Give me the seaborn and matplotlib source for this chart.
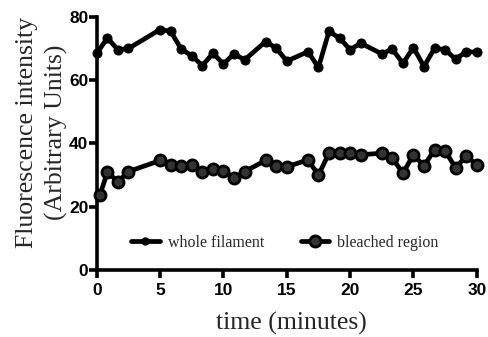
import matplotlib
matplotlib.use("Agg")
import matplotlib.pyplot as plt
import seaborn as sns
import pandas as pd
from matplotlib.lines import Line2D

# Time points (minutes) and intensities for each region
whole_time = [0.0, 0.83, 1.67, 2.5, 5.0, 5.83, 6.67, 7.5, 8.33, 9.17, 10.0, 10.83,
              11.67, 13.33, 14.17, 15.0, 16.67, 17.5, 18.33, 19.17, 20.0, 20.83,
              22.5, 23.33, 24.17, 25.0, 25.83, 26.67, 27.5, 28.33, 29.17, 30.0]
whole_value = [68.5, 73.3, 69.6, 70.0, 76.0, 75.4, 69.8, 67.7, 64.6, 68.5, 65.1, 68.3,
               66.4, 72.2, 70.1, 66.0, 69.0, 64.0, 75.4, 73.3, 69.6, 71.7,
               68.3, 69.8, 65.3, 70.3, 64.3, 70.1, 69.6, 66.6, 69.0, 68.8]

bleach_time = [0.25, 0.83, 1.67, 2.5, 5.0, 5.83, 6.67, 7.5, 8.33, 9.17, 10.0, 10.83,
               11.67, 13.33, 14.17, 15.0, 16.67, 17.5, 18.33, 19.17, 20.0, 20.83,
               22.5, 23.33, 24.17, 25.0, 25.83, 26.67, 27.5, 28.33, 29.17, 30.0]
bleach_value = [23.7, 30.9, 27.9, 31.1, 34.6, 33.2, 32.9, 33.2, 31.1, 31.9, 31.4, 29.0,
                31.1, 34.6, 33.0, 32.6, 34.8, 30.0, 36.9, 37.1, 36.9, 36.4,
                36.9, 35.3, 30.6, 36.4, 32.9, 38.0, 37.7, 32.2, 36.1, 33.2]

x_ticks = [0, 5, 10, 15, 20, 25, 30]
y_ticks = [0, 20, 40, 60, 80]

sns.set_style("ticks")
plt.rcParams["font.family"] = ["Liberation Sans", "DejaVu Sans"]

fig = plt.figure(figsize=(4.89, 3.37), dpi=100)
ax = fig.add_axes([0.198, 0.199, 0.777, 0.751])

whole = pd.DataFrame({"time": whole_time, "value": whole_value})
bleach = pd.DataFrame({"time": bleach_time, "value": bleach_value})

sns.lineplot(data=whole, x="time", y="value", ax=ax, sort=False, color="black",
             linewidth=3.4, marker="o", markersize=6.5, markerfacecolor="black",
             markeredgecolor="black", clip_on=False, zorder=3)
sns.lineplot(data=bleach, x="time", y="value", ax=ax, sort=False, color="black",
             linewidth=3.4, marker="o", markersize=8, markerfacecolor="#333333",
             markeredgecolor="black", markeredgewidth=2, clip_on=False, zorder=3)

ax.set_xlim(0, 30)
ax.set_ylim(0, 80)
ax.set_xticks(x_ticks)
ax.set_yticks(y_ticks)
ax.set_xticklabels([str(t) for t in x_ticks], fontweight="bold", fontsize=12.5)
ax.set_yticklabels([str(t) for t in y_ticks], fontweight="bold", fontsize=12.5)

for side in ("left", "bottom"):
    ax.spines[side].set_linewidth(2.6)
    ax.spines[side].set_color("black")
    ax.spines[side].set_capstyle("projecting")
sns.despine(ax=ax)
ax.tick_params(axis="both", direction="out", length=5.5, width=2.6, color="black",
               labelcolor="black")
ax.tick_params(axis="x", pad=4)
ax.tick_params(axis="y", pad=0.5)

ax.set_xlabel("time (minutes)", family="Liberation Serif", fontsize=18.5, labelpad=10)
ax.set_ylabel("Fluorescence intensity\n(Arbitrary Units)", family="Liberation Serif",
              fontsize=18.5, labelpad=1, linespacing=1.38)
ax.xaxis.label.set_x(0.513)
ax.yaxis.label.set_y(0.543)

handles = [
    Line2D([], [], color="black", linewidth=3.4, marker="o", markersize=5,
           markerfacecolor="black"),
    Line2D([], [], color="black", linewidth=3.4, marker="o", markersize=8,
           markerfacecolor="#333333", markeredgecolor="black", markeredgewidth=2),
]
ax.legend(handles, ["whole filament", "bleached region"], loc="lower center",
          bbox_to_anchor=(0.495, 0.02), ncol=2, frameon=False, columnspacing=2.3,
          handlelength=1.8, handletextpad=0.5,
          prop={"family": "Liberation Serif", "size": 11.5})

fig.savefig("out.png", dpi=100)
